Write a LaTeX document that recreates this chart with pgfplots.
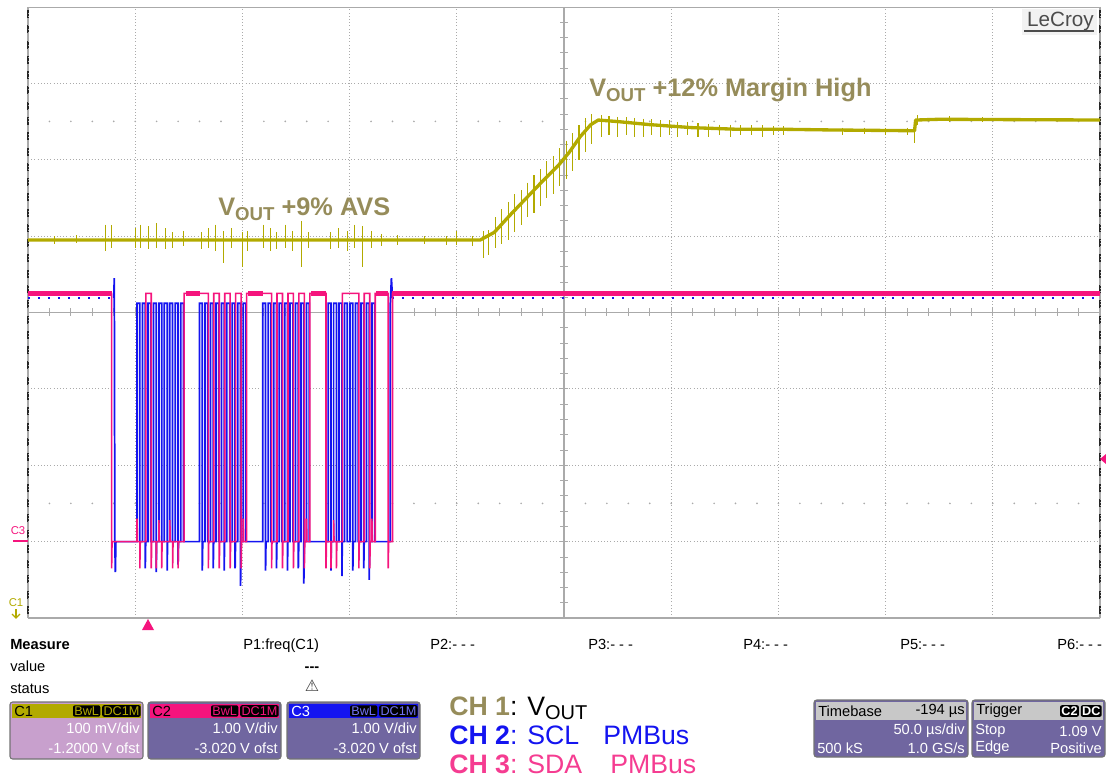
\documentclass[border=0pt]{standalone}
\usepackage{pgfplots}
\pgfplotsset{compat=1.18}
\usepackage{fontspec}
\setmainfont{Liberation Sans}
\newfontfamily\dejavu{DejaVu Sans}

\definecolor{cone}{RGB}{178,170,0}
\definecolor{khaki}{RGB}{150,140,90}
\definecolor{pinktr}{RGB}{245,20,125}
\definecolor{bluetr}{RGB}{20,20,240}
\definecolor{pinktxt}{RGB}{245,60,145}
\definecolor{boxbody}{RGB}{112,102,160}
\definecolor{boxone}{RGB}{200,160,205}
\definecolor{hdrgray}{RGB}{200,200,200}
\definecolor{grat}{RGB}{170,170,170}

\newcommand\pf{\fontsize{11}{13}\selectfont}
\newcommand\tf{\fontsize{9.5}{11}\selectfont}
\newcommand\vout[1]{V\raisebox{-0.35ex}{\fontsize{#1}{#1}\selectfont OUT}}

% channel box: x, header colour, body colour, label, label colour, tag colour, line 1, line 2
\newcommand\chbox[8]{%
  \fill[#3, rounded corners=2pt] (#1,702) rectangle ++(133,57);
  \fill[#2] (#1+2,704) rectangle ++(129,14);
  \draw[black!55, line width=0.8pt, rounded corners=2pt] (#1,702) rectangle ++(133,57);
  \node[anchor=west, text=#5, font=\pf, inner sep=0] at (#1+4,711) {#4};
  \node[anchor=east, fill=black, text=#6, rounded corners=1.5pt, inner sep=1pt, font=\tf] (dc) at (#1+131,711) {DC1M};
  \node[anchor=east, fill=black, text=#6, rounded corners=1.5pt, inner sep=1pt, font=\tf] at ([xshift=-1pt]dc.west) {BwL};
  \node[anchor=east, white, font=\pf, inner sep=0] at (#1+130,728) {#7};
  \node[anchor=east, white, font=\pf, inner sep=0] at (#1+130,748) {#8};
}

\begin{document}
\begin{tikzpicture}
\begin{scope}[x=0.75pt,y=-0.75pt]
\useasboundingbox (0,0) rectangle (1106,780);
% graticule
\draw[grat, line width=0.6pt] (28,7) -- (1100,7);
\draw[grat, line width=1pt] (28,618) -- (1100,618);
\draw[grat, line width=0.9pt] (564,7) -- (564,618);
\draw[grat, line width=0.9pt] (28,312.5) -- (1100,312.5);
\foreach \k in {1,...,49} \draw[grat, line width=0.6pt] ({28+21.44*\k},308.5) -- ++(0,8);
\foreach \k in {1,...,39} \draw[grat, line width=0.6pt] (560,{7+15.275*\k}) -- ++(8,0);
\foreach \k in {1,...,49} {
  \fill[grat] ({28+21.44*\k},121.4) circle (0.7pt);
  \fill[grat] ({28+21.44*\k},503.4) circle (0.7pt);
}
\draw[grat, line width=0.9pt] (28,7) -- (28,618);
\draw[grat, line width=0.9pt] (1100,7) -- (1100,618);
\draw[black!85, line width=1.6pt, dash pattern=on 6pt off 5.46pt] (28,10) -- (28,618);
\draw[black!85, line width=1.6pt, dash pattern=on 6pt off 5.46pt] (1100,10) -- (1100,618);
\end{scope}

\begin{axis}[
  at={(21pt,-463.5pt)}, anchor=south west,
  width=804pt, height=458.25pt, scale only axis,
  xmin=0, xmax=10, ymin=0, ymax=8,
  axis line style={draw=none},
  xtick={0,...,10}, ytick={0,...,8},
  xticklabels={}, yticklabels={},
  major tick length=0pt,
  grid=major,
  major grid style={grat, dotted, line width=0.7pt},
  unbounded coords=jump,
]
% CH1 noise spikes
\addplot[cone, line width=0.8pt] coordinates {
(0.25,5.00)(0.25,4.90)(0.25,nan) (0.45,5.01)(0.45,4.91)(0.45,nan)
(0.72,5.15)(0.72,4.80)(0.72,nan) (0.78,5.14)(0.78,4.85)(0.78,nan)
(1.00,5.10)(1.00,4.85)(1.00,nan) (1.05,5.15)(1.05,4.85)(1.05,nan)
(1.12,5.13)(1.12,4.83)(1.12,nan) (1.20,5.17)(1.20,4.85)(1.20,nan)
(1.28,5.10)(1.28,4.83)(1.28,nan) (1.35,5.05)(1.35,4.85)(1.35,nan)
(1.45,5.07)(1.45,4.87)(1.45,nan) (1.62,5.05)(1.62,4.83)(1.62,nan)
(1.68,5.10)(1.68,4.85)(1.68,nan) (1.75,5.15)(1.75,4.80)(1.75,nan)
(1.82,5.07)(1.82,4.65)(1.82,nan) (1.90,5.10)(1.90,4.85)(1.90,nan)
(2.00,5.05)(2.00,4.60)(2.00,nan) (2.05,5.07)(2.05,4.80)(2.05,nan)
(2.20,5.15)(2.20,4.85)(2.20,nan) (2.26,5.10)(2.26,4.80)(2.26,nan)
(2.32,5.05)(2.32,4.83)(2.32,nan) (2.40,5.15)(2.40,4.85)(2.40,nan)
(2.47,5.07)(2.47,4.80)(2.47,nan) (2.55,5.20)(2.55,4.60)(2.55,nan)
(2.62,5.05)(2.62,4.85)(2.62,nan) (2.82,5.05)(2.82,4.83)(2.82,nan)
(2.90,5.10)(2.90,4.85)(2.90,nan) (2.98,5.07)(2.98,4.80)(2.98,nan)
(3.05,5.15)(3.05,4.85)(3.05,nan) (3.12,5.13)(3.12,4.60)(3.12,nan)
(3.20,5.07)(3.20,4.85)(3.20,nan) (3.30,5.03)(3.30,4.87)(3.30,nan)
(3.45,5.01)(3.45,4.89)(3.45,nan) (3.70,5.00)(3.70,4.90)(3.70,nan)
(3.90,5.00)(3.90,4.89)(3.90,nan) (4.00,5.07)(4.00,4.89)(4.00,nan)
(4.15,5.00)(4.15,4.87)(4.15,nan) (4.25,5.07)(4.25,4.72)(4.25,nan)
(4.30,5.08)(4.30,4.75)(4.30,nan)
(4.36,5.25)(4.36,4.85)(4.36,nan) (4.42,5.35)(4.42,4.90)(4.42,nan)
(4.48,5.45)(4.48,4.95)(4.48,nan) (4.54,5.55)(4.54,5.05)(4.54,nan)
(4.60,5.60)(4.60,5.15)(4.60,nan) (4.66,5.70)(4.66,5.25)(4.66,nan)
(4.72,5.80)(4.72,5.30)(4.72,nan) (4.78,5.88)(4.78,5.40)(4.78,nan)
(4.84,5.98)(4.84,5.50)(4.84,nan) (4.90,6.05)(4.90,5.55)(4.90,nan)
(4.96,6.15)(4.96,5.65)(4.96,nan) (5.02,6.25)(5.02,5.75)(5.02,nan)
(5.08,6.35)(5.08,5.85)(5.08,nan) (5.14,6.45)(5.14,6.00)(5.14,nan)
(5.20,6.55)(5.20,6.10)(5.20,nan) (5.26,6.60)(5.26,6.20)(5.26,nan)
(5.35,6.58)(5.35,6.30)(5.35,nan) (5.42,6.57)(5.42,6.32)(5.42,nan)
(5.50,6.56)(5.50,6.30)(5.50,nan) (5.58,6.56)(5.58,6.32)(5.58,nan)
(5.66,6.55)(5.66,6.30)(5.66,nan) (5.74,6.54)(5.74,6.30)(5.74,nan)
(5.82,6.53)(5.82,6.32)(5.82,nan) (5.90,6.52)(5.90,6.30)(5.90,nan)
(5.98,6.52)(5.98,6.32)(5.98,nan) (6.06,6.50)(6.06,6.30)(6.06,nan)
(6.15,6.49)(6.15,6.32)(6.15,nan) (6.25,6.48)(6.25,6.30)(6.25,nan)
(6.35,6.47)(6.35,6.30)(6.35,nan) (6.45,6.46)(6.45,6.32)(6.45,nan)
(6.55,6.46)(6.55,6.30)(6.55,nan) (6.65,6.45)(6.65,6.32)(6.65,nan)
(6.75,6.45)(6.75,6.33)(6.75,nan) (6.85,6.45)(6.85,6.30)(6.85,nan)
(6.95,6.44)(6.95,6.33)(6.95,nan) (7.05,6.44)(7.05,6.32)(7.05,nan)
(7.60,6.42)(7.60,6.33)(7.60,nan) (7.80,6.42)(7.80,6.34)(7.80,nan)
(8.00,6.42)(8.00,6.33)(8.00,nan) (8.20,6.42)(8.20,6.33)(8.20,nan)
(8.27,6.40)(8.27,6.22)(8.27,nan) (8.30,6.58)(8.30,6.45)(8.30,nan)
(8.60,6.57)(8.60,6.50)(8.60,nan) (8.90,6.56)(8.90,6.50)(8.90,nan)
};
% CH1 trace
\addplot[cone, line width=2.5pt, line join=round] coordinates {
(0,4.95)(4.22,4.95)(4.35,5.05)(4.5,5.28)(4.65,5.5)(4.8,5.72)(4.95,5.93)
(5.05,6.1)(5.15,6.3)(5.25,6.46)(5.32,6.52)(5.5,6.50)(5.8,6.46)(6.2,6.42)
(6.6,6.40)(7.0,6.40)(7.5,6.39)(8.27,6.38)(8.28,6.52)(8.5,6.53)(10,6.52)
};
% CH2 (SCL) idle level
\addplot[bluetr, line width=1.3pt, dash pattern=on 1.5pt off 6pt] coordinates {
(0,4.19)(0.80,4.19)(0.80,nan)(3.40,4.19)(10,4.19)
};
% CH2 (SCL) bursts
\addplot[bluetr, line width=1.3pt] coordinates {
(0.80,4.19)(0.805,4.45)(0.81,1.0)(0.815,0.6)(0.82,1.0)
(1.017,1.0)(1.017,4.12)(1.043,4.12)(1.043,1.0)
(1.068,1.0)(1.068,4.12)(1.094,4.12)(1.094,0.65)(1.098,1.0)
(1.119,1.0)(1.119,4.12)(1.145,4.12)(1.145,1.0)
(1.170,1.0)(1.170,4.12)(1.196,4.12)(1.196,0.60)(1.200,1.0)
(1.221,1.0)(1.221,4.12)(1.247,4.12)(1.247,1.0)
(1.272,1.0)(1.272,4.12)(1.298,4.12)(1.298,0.62)(1.302,1.0)
(1.323,1.0)(1.323,4.12)(1.349,4.12)(1.349,1.0)
(1.374,1.0)(1.374,4.12)(1.400,4.12)(1.400,0.70)(1.404,1.0)
(1.425,1.0)(1.425,4.12)(1.451,4.12)(1.451,1.0)
(1.600,1.0)(1.600,4.12)(1.626,4.12)(1.626,0.62)(1.630,1.0)
(1.651,1.0)(1.651,4.12)(1.677,4.12)(1.677,1.0)
(1.702,1.0)(1.702,4.12)(1.728,4.12)(1.728,0.65)(1.732,1.0)
(1.753,1.0)(1.753,4.12)(1.779,4.12)(1.779,1.0)
(1.804,1.0)(1.804,4.12)(1.830,4.12)(1.830,0.62)(1.834,1.0)
(1.855,1.0)(1.855,4.12)(1.881,4.12)(1.881,1.0)
(1.906,1.0)(1.906,4.12)(1.932,4.12)(1.932,0.65)(1.936,1.0)
(1.957,1.0)(1.957,4.12)(1.983,4.12)(1.983,0.42)(1.987,1.0)
(2.008,1.0)(2.008,4.12)(2.034,4.12)(2.034,1.0)
(2.190,1.0)(2.190,4.12)(2.216,4.12)(2.216,0.62)(2.220,1.0)
(2.241,1.0)(2.241,4.12)(2.267,4.12)(2.267,1.0)
(2.292,1.0)(2.292,4.12)(2.318,4.12)(2.318,0.65)(2.322,1.0)
(2.343,1.0)(2.343,4.12)(2.369,4.12)(2.369,1.0)
(2.394,1.0)(2.394,4.12)(2.420,4.12)(2.420,0.62)(2.424,1.0)
(2.445,1.0)(2.445,4.12)(2.471,4.12)(2.471,1.0)
(2.496,1.0)(2.496,4.12)(2.522,4.12)(2.522,0.65)(2.526,1.0)
(2.547,1.0)(2.547,4.12)(2.573,4.12)(2.573,0.45)(2.577,1.0)
(2.598,1.0)(2.598,4.12)(2.624,4.12)(2.624,1.0)
(2.800,1.0)(2.800,4.12)(2.826,4.12)(2.826,0.62)(2.830,1.0)
(2.851,1.0)(2.851,4.12)(2.877,4.12)(2.877,1.0)
(2.902,1.0)(2.902,4.12)(2.928,4.12)(2.928,0.55)(2.932,1.0)
(2.953,1.0)(2.953,4.12)(2.979,4.12)(2.979,1.0)
(3.004,1.0)(3.004,4.12)(3.030,4.12)(3.030,0.62)(3.034,1.0)
(3.055,1.0)(3.055,4.12)(3.081,4.12)(3.081,1.0)
(3.106,1.0)(3.106,4.12)(3.132,4.12)(3.132,0.65)(3.136,1.0)
(3.157,1.0)(3.157,4.12)(3.183,4.12)(3.183,0.50)(3.187,1.0)
(3.208,1.0)(3.208,4.12)(3.234,4.12)(3.234,1.0)
(3.380,1.0)(3.380,4.12)(3.390,4.45)(3.400,4.19)
};
% CH3 (SDA)
\addplot[pinktr, line width=1.2pt] coordinates {
(0,4.25)(0.78,4.25)(0.78,0.65)(0.784,1.0)
(1.017,1.0)(1.017,1.3)(1.021,1.0)
(1.043,1.0)(1.043,0.65)(1.047,1.0)
(1.099,1.0)(1.099,4.25)(1.150,4.25)(1.150,0.65)(1.154,1.0)
(1.196,1.0)(1.196,0.65)(1.200,1.0)
(1.221,1.0)(1.221,1.28)(1.225,1.0)
(1.247,1.0)(1.247,0.65)(1.251,1.0)
(1.323,1.0)(1.323,1.28)(1.327,1.0)
(1.349,1.0)(1.349,0.65)(1.353,1.0)
(1.400,1.0)(1.400,0.65)(1.404,1.0)
(1.456,1.0)(1.456,4.25)(1.682,4.25)(1.682,0.65)(1.686,1.0)
(1.733,1.0)(1.733,4.25)(1.784,4.25)(1.784,0.65)(1.788,1.0)
(1.835,1.0)(1.835,4.25)(1.886,4.25)(1.886,0.65)(1.890,1.0)
(1.937,1.0)(1.937,4.25)(1.988,4.25)(1.988,0.65)(1.992,1.0)
(2.008,1.0)(2.008,1.3)(2.012,1.0)
(2.039,1.0)(2.039,4.25)(2.272,4.25)(2.272,0.65)(2.276,1.0)
(2.323,1.0)(2.323,4.25)(2.374,4.25)(2.374,0.65)(2.378,1.0)
(2.425,1.0)(2.425,4.25)(2.476,4.25)(2.476,0.65)(2.480,1.0)
(2.527,1.0)(2.527,4.25)(2.578,4.25)(2.578,0.65)(2.582,1.0)
(2.598,1.0)(2.598,1.3)(2.602,1.0)
(2.629,1.0)(2.629,4.25)(2.780,4.25)(2.780,0.65)(2.784,1.0)
(2.826,1.0)(2.826,0.65)(2.830,1.0)
(2.851,1.0)(2.851,1.28)(2.855,1.0)
(2.877,1.0)(2.877,0.65)(2.881,1.0)
(2.933,1.0)(2.933,4.25)(3.086,4.25)(3.086,0.65)(3.090,1.0)
(3.137,1.0)(3.137,4.25)(3.188,4.25)(3.188,0.65)(3.192,1.0)
(3.208,1.0)(3.208,1.3)(3.212,1.0)
(3.239,1.0)(3.239,4.25)(3.360,4.25)(3.360,0.65)(3.364,1.0)
(3.400,1.0)(3.400,4.25)(10,4.25)
};
% CH3 (SDA) idle-high band
\addplot[pinktr, line width=4.2pt] coordinates {
(0,4.25)(0.78,4.25)(0.78,nan)
(1.47,4.25)(1.60,4.25)(1.60,nan)
(2.05,4.25)(2.19,4.25)(2.19,nan)
(2.64,4.25)(2.78,4.25)(2.78,nan)
(3.25,4.25)(3.36,4.25)(3.36,nan)
(3.40,4.25)(10,4.25)
};
\end{axis}

\begin{scope}[x=0.75pt,y=-0.75pt]
% annotations
\node[anchor=base west, inner sep=0, text=khaki, font=\bfseries\fontsize{19}{22}\selectfont] at (218,216) {\vout{14} +9\% AVS};
\node[anchor=base west, inner sep=0, text=khaki, font=\bfseries\fontsize{19}{22}\selectfont] at (589,97) {\vout{14} +12\% Margin High};
\fill[black!5] (1022,9) rectangle (1097,35);
\node[anchor=east, inner sep=0, text=black!70, font=\fontsize{15.5}{17}\selectfont] at (1094,21) {LeCroy};
\draw[black!70, line width=1.2pt] (1024,31) -- (1094,31);
% channel markers
\node[text=pinktr, font=\fontsize{8.5}{9}\selectfont, inner sep=0] at (18,531) {C3};
\draw[pinktr, line width=1.6pt] (13,541) -- (28,541);
\node[text=cone, font=\fontsize{8.5}{9}\selectfont, inner sep=0] at (16,603) {C1};
\draw[cone, line width=1pt] (16,609) -- (16,618);
\draw[cone, line width=1pt] (12,614) -- (16,618) -- (20,614);
\fill[pinktr] (142,630) -- (154,630) -- (148,619) -- cycle;
\fill[pinktr] (1100,459) -- (1106,454) -- (1106,464) -- cycle;
% measure rows
\node[anchor=base west, inner sep=0, font=\bfseries\pf] at (10,649) {Measure};
\node[anchor=base west, inner sep=0, font=\pf] at (10,671) {value};
\node[anchor=base west, inner sep=0, font=\pf] at (10,693) {status};
\node[anchor=base west, inner sep=0, font=\pf] at (243,649) {P1:freq(C1)};
\node[anchor=base west, inner sep=0, font=\pf] at (430,649) {P2:- - -};
\node[anchor=base west, inner sep=0, font=\pf] at (588,649) {P3:- - -};
\node[anchor=base west, inner sep=0, font=\pf] at (743,649) {P4:- - -};
\node[anchor=base west, inner sep=0, font=\pf] at (900,649) {P5:- - -};
\node[anchor=base west, inner sep=0, font=\pf] at (1057,649) {P6:- - -};
\node[anchor=base, inner sep=0, font=\bfseries\pf] at (312,671) {-{}-{}-};
\node[inner sep=0, font=\dejavu\bfseries\fontsize{12}{13}\selectfont, text=black!75] at (312,686) {⚠};
% channel boxes
\chbox{10}{cone}{boxone}{C1}{black}{cone}{100 mV/div}{-1.2000 V ofst}
\chbox{148}{pinktr}{boxbody}{C2}{black}{pinktr}{1.00 V/div}{-3.020 V ofst}
\chbox{287}{bluetr}{boxbody}{C3}{white}{bluetr!60}{1.00 V/div}{-3.020 V ofst}
% legend
\node[anchor=base west, inner sep=0, font=\fontsize{20}{24}\selectfont] at (449,715) {\textcolor{khaki}{\bfseries CH 1}: \vout{15}};
\node[anchor=base west, inner sep=0, text=bluetr, font=\fontsize{20}{24}\selectfont] at (449,744) {\bfseries CH 2\mdseries: SCL};
\node[anchor=base west, inner sep=0, text=bluetr, font=\fontsize{20}{24}\selectfont] at (603,744) {PMBus};
\node[anchor=base west, inner sep=0, text=pinktxt, font=\fontsize{20}{24}\selectfont] at (449,773) {\bfseries CH 3\mdseries: SDA};
\node[anchor=base west, inner sep=0, text=pinktxt, font=\fontsize{20}{24}\selectfont] at (610,773) {PMBus};
% timebase box
\fill[boxbody, rounded corners=2pt] (814,700) rectangle (968,757);
\fill[hdrgray] (816,702) rectangle (966,720);
\draw[black!55, line width=0.8pt, rounded corners=2pt] (814,700) rectangle (968,757);
\node[anchor=west, inner sep=0, font=\pf] at (818,711) {Timebase};
\node[anchor=east, inner sep=0, font=\pf] at (965,711) {-194 µs};
\node[anchor=east, inner sep=0, font=\pf, white] at (965,731) {50.0 µs/div};
\node[anchor=west, inner sep=0, font=\pf, white] at (817,748) {500 kS};
\node[anchor=east, inner sep=0, font=\pf, white] at (965,748) {1.0 GS/s};
% trigger box
\fill[boxbody, rounded corners=2pt] (972,700) rectangle (1105,757);
\fill[hdrgray] (974,702) rectangle (1103,720);
\draw[black!55, line width=0.8pt, rounded corners=2pt] (972,700) rectangle (1105,757);
\node[anchor=west, inner sep=0, font=\pf] at (976,711) {Trigger};
\node[anchor=east, fill=black, text=white, rounded corners=1.5pt, inner sep=1pt, font=\bfseries\tf] (tdc) at (1102,711) {DC};
\node[anchor=east, fill=black, text=white, rounded corners=1.5pt, inner sep=1pt, font=\bfseries\tf] at ([xshift=-1pt]tdc.west) {C2};
\node[anchor=west, inner sep=0, font=\pf, white] at (975,731) {Stop};
\node[anchor=east, inner sep=0, font=\pf, white] at (1102,731) {1.09 V};
\node[anchor=west, inner sep=0, font=\pf, white] at (975,748) {Edge};
\node[anchor=east, inner sep=0, font=\pf, white] at (1102,748) {Positive};
\end{scope}
\end{tikzpicture}
\end{document}
